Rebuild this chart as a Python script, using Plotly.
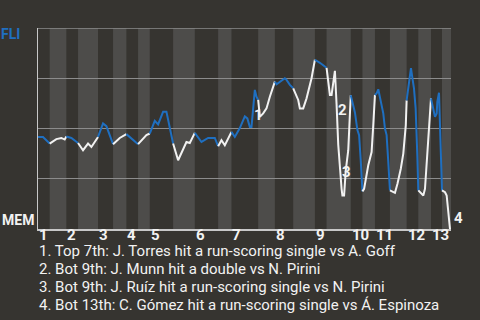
import plotly.graph_objects as go

# ---- data ----
# x: play index along the game, wp: FLI win probability (%)
play = [0, 3, 7,
        11, 14, 16, 17,
        20, 24,
        27, 30, 32, 36,
        39, 41, 45,
        49, 53,
        58, 60,
        65, 67,
        70, 72, 75, 77, 80, 81,
        84, 89, 91, 94,
        98, 102, 106, 108,
        110, 112, 116,
        118, 121, 124, 125.5, 127, 128, 129, 130, 131, 132,
        133, 135, 137, 139, 142,
        143, 148, 149, 151, 153,
        156, 157, 159, 161, 164, 166,
        169, 173,
        174, 175, 176, 177, 178, 179, 180, 182, 182.5, 183.5, 184.5, 186, 187, 187.5,
        189, 190, 191.5, 192.5, 193.5, 194, 194.5,
        195.5, 198, 200, 201, 202,
        203, 204, 205, 207, 208, 209, 210, 211,
        213, 214, 215.5, 217.5, 219, 220.5, 221,
        222, 223, 223.6, 224.2, 225.4, 226.4, 227, 227.4, 228,
        229.6, 231, 232, 233.6, 234.6, 235.6,
        237, 238, 239, 239.4, 240.4, 240.6, 241, 241.6, 242.2,
        244, 245, 246, 247]
wp = [45.8, 45.8, 42.5,
      44.7, 45.3, 44.5, 46.0,
      45.3, 42.8,
      39.2, 42.5, 40.8, 45.8,
      52.5, 51.2, 42.2,
      45.3, 47.2,
      43.8, 42.2,
      46.7, 47.5,
      53.8, 52.0, 58.3, 58.3, 47.5, 42.5,
      34.2, 43.3, 42.8, 47.8,
      43.3, 45.3, 45.3, 41.2,
      44.2, 41.7, 48.3,
      45.8, 50.2, 56.0, 55.0, 50.8, 50.8, 59.0, 69.2, 65.8, 64.2,
      55.8, 57.5, 60.0, 65.8, 73.3,
      72.0, 75.0, 74.2, 71.7, 70.0,
      64.2, 60.0, 60.0, 65.0, 75.0, 84.2,
      82.7, 80.2,
      74.2, 66.7, 66.7, 72.5, 78.7, 62.0, 42.0, 20.0, 16.7, 16.7, 29.0, 39.2, 62.0, 66.5,
      62.0, 58.0, 49.2, 46.7, 34.0, 26.0, 18.7,
      20.0, 31.7, 38.3, 51.7, 66.7,
      67.5, 69.5, 65.8, 57.5, 50.0, 46.7, 33.3, 19.2,
      18.3, 18.0, 22.5, 30.0, 37.5, 51.7, 64.0,
      70.0, 76.7, 80.0, 76.5, 70.0, 60.0, 48.3, 36.7, 19.2,
      18.0, 16.7, 20.0, 38.3, 50.0, 65.0,
      60.0, 55.8, 57.5, 63.3, 67.8, 61.7, 46.7, 31.7, 19.2,
      18.3, 16.7, 8.3, 0.0]

# half-inning boundaries (top, bottom, top, bottom, ...)
half_bounds = [0, 7, 17, 24, 36, 45, 53, 60, 67, 81, 94, 108, 116, 132, 142,
               153, 166, 173, 187.5, 194.5, 202, 211, 221, 228, 235.6, 242.2, 247.6]
inning_labels = [str(i) for i in range(1, 14)]

away_team = "FLI"
home_team = "MEM"

event_labels = ["1", "2", "3", "4"]
event_play = [132, 182.3, 184.8, 247]
event_wp = [56.5, 59.2, 28.3, 5.4]
event_text = [
    "1. Top 7th: J. Torres hit a run-scoring single vs A. Goff",
    "2. Bot 9th: J. Munn hit a double vs N. Pirini",
    "3. Bot 9th: J. Ruíz hit a run-scoring single vs N. Pirini",
    "4. Bot 13th: C. Gómez hit a run-scoring single vs Á. Espinoza",
]

# ---- style ----
BG = "#363430"
STRIPE = "#4d4c4a"
BLUE = "#1f6fc0"
WHITE = "#f2f2f2"
GRID = "#8c8c8c"
FONT = "Roboto"

fig = go.Figure()

# stripes for bottom halves
shapes = []
for i in range(len(half_bounds) - 1):
    if i % 2 == 1:
        shapes.append(dict(type="rect", xref="x", yref="paper",
                           x0=half_bounds[i], x1=half_bounds[i + 1], y0=0, y1=1,
                           fillcolor=STRIPE, line=dict(width=0), layer="below"))
# top border line (100% grid line)
shapes.append(dict(type="line", xref="paper", yref="y", x0=0, x1=1, y0=100, y1=100,
                   line=dict(color=GRID, width=1.5), layer="below"))

# line segments per half-inning
def half_of(x):
    for i in range(len(half_bounds) - 1):
        if x <= half_bounds[i + 1]:
            return i
    return len(half_bounds) - 2

halves = [half_of(x) for x in play]
n_halves = len(half_bounds) - 1
for h in range(n_halves):
    idx = [k for k, hh in enumerate(halves) if hh == h]
    if not idx:
        continue
    start = idx[0] - 1 if idx[0] > 0 else idx[0]
    xs = play[start:idx[-1] + 1]
    ys = wp[start:idx[-1] + 1]
    fig.add_trace(go.Scatter(x=xs, y=ys, mode="lines",
                             line=dict(color=BLUE if h % 2 == 0 else WHITE, width=2),
                             hoverinfo="skip", showlegend=False, cliponaxis=False))

annotations = []
# inning labels
for k, lab in enumerate(inning_labels):
    annotations.append(dict(x=half_bounds[2 * k], y=0.019, xref="x", yref="paper",
                            text=lab, showarrow=False, xanchor="left", yanchor="top",
                            font=dict(family=FONT, size=15, color=WHITE, weight="bold"),
                            borderpad=0))
# event markers
for lab, ex, ey in zip(event_labels, event_play, event_wp):
    annotations.append(dict(x=ex, y=ey, xref="x", yref="y", text=lab, showarrow=False,
                            xanchor="center", yanchor="middle",
                            xshift=(8 if lab == "4" else 0),
                            font=dict(family=FONT, size=15, color=WHITE, weight="bold")))
# event descriptions
for k, t in enumerate(event_text):
    annotations.append(dict(x=0, y=-0.06 - k * 0.09, xref="paper", yref="paper",
                            text=t, showarrow=False, xanchor="left", yanchor="top",
                            font=dict(family=FONT, size=15, color=WHITE), borderpad=0))
# team labels
annotations.append(dict(x=0, y=0.97, xref="paper", yref="paper", text=away_team,
                        showarrow=False, xanchor="right", yanchor="middle", xshift=-16,
                        font=dict(family=FONT, size=14, color=BLUE, weight="bold")))
annotations.append(dict(x=0, y=0.045, xref="paper", yref="paper", text=home_team,
                        showarrow=False, xanchor="right", yanchor="middle", xshift=-2,
                        font=dict(family=FONT, size=14, color=WHITE, weight="bold")))

fig.update_layout(
    width=480, height=320,
    margin=dict(l=38, r=29, t=28, b=91, pad=0),
    paper_bgcolor=BG, plot_bgcolor=BG,
    shapes=shapes, annotations=annotations,
    showlegend=False,
    xaxis=dict(range=[0, half_bounds[-1]], showgrid=False, zeroline=False,
               showticklabels=False, ticks="", showline=True, linecolor="#c8c8c8",
               linewidth=2, fixedrange=True),
    yaxis=dict(range=[0, 100], tickvals=[25, 50, 75], showgrid=True,
               gridcolor=GRID, gridwidth=1, zeroline=False,
               showticklabels=False, ticks="", showline=True, linecolor="#c8c8c8",
               linewidth=1, fixedrange=True),
)

fig.write_html("out.html")
